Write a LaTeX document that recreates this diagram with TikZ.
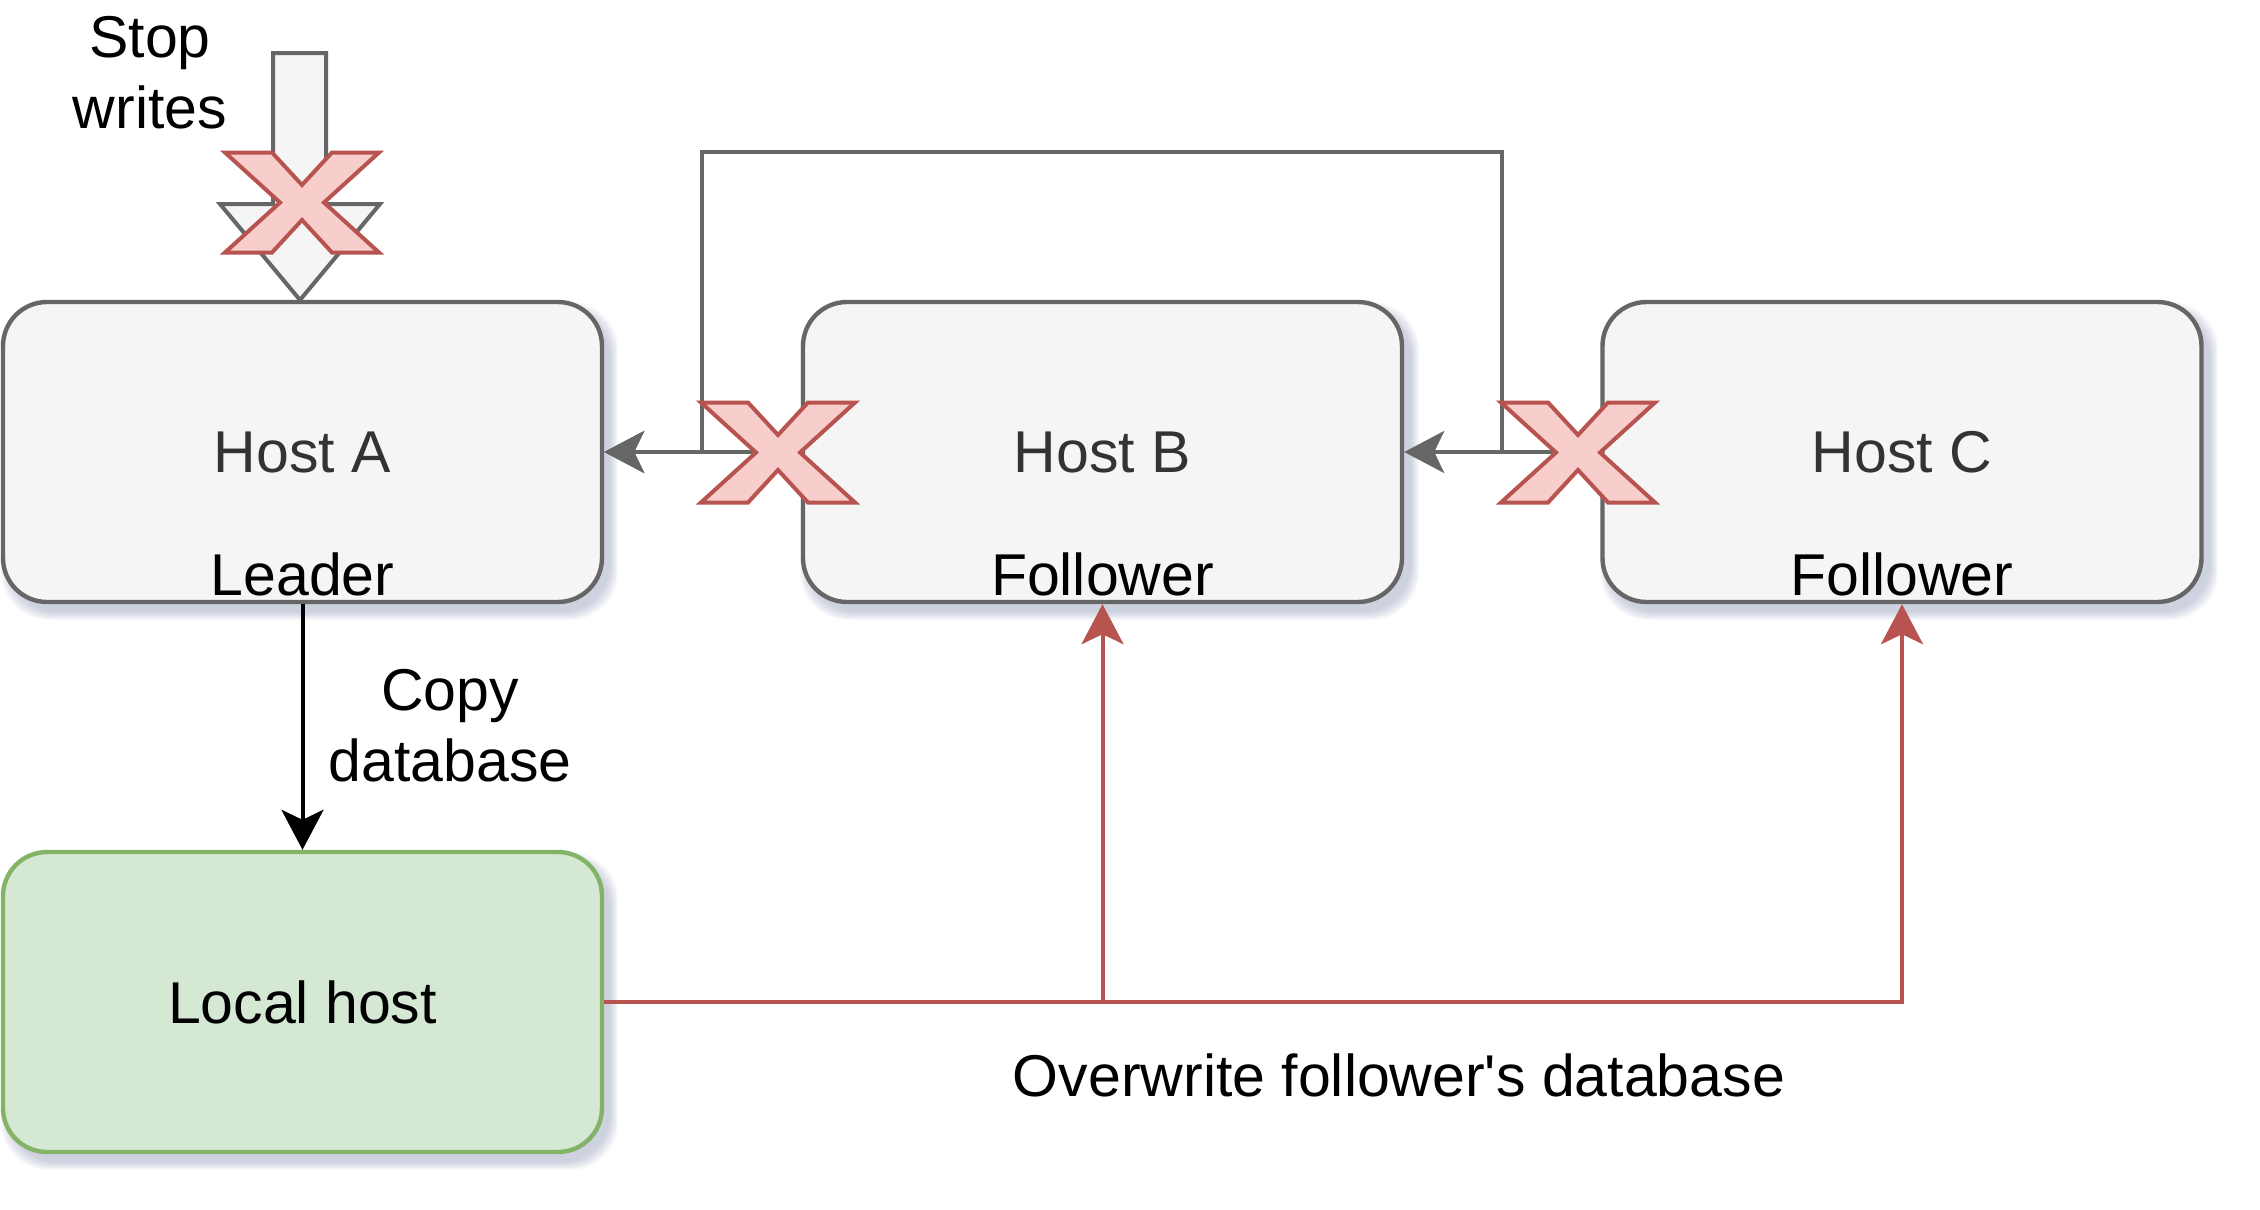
\documentclass[tikz,border=0pt]{standalone}
\usepackage{fontspec}
\setmainfont{Liberation Sans}
\usetikzlibrary{arrows.meta}
\definecolor{gbord}{HTML}{666666}
\definecolor{gfill}{HTML}{F5F5F5}
\definecolor{gtext}{HTML}{333333}
\definecolor{grfill}{HTML}{D5E8D4}
\definecolor{grbord}{HTML}{82B366}
\definecolor{rbord}{HTML}{B85450}
\definecolor{rfill}{HTML}{F8CECC}
\definecolor{shadowc}{HTML}{8E97B8}
\newcommand{\dfont}{\fontsize{29.5pt}{35.4pt}\selectfont}
\newcommand{\boxshadow}[4]{%
  \foreach \s in {1,...,9}{%
    \fill[shadowc, opacity=0.055, rounded corners=24pt]
      ({#1+7-\s},{#2+9-\s}) rectangle ({#3+7+\s},{#4+9+\s});
  }%
}
\tikzset{
  xmark/.pic={
    \draw[draw=rbord, fill=rfill, line width=2pt, line join=miter]
      (-77,-50) -- (-30,-50) -- (0,-17.5) -- (30,-50) -- (77,-50)
      -- (22,0) -- (77,50) -- (30,50) -- (0,17.5) -- (-30,50)
      -- (-77,50) -- (-22,0) -- cycle;
  }
}
\begin{document}
\begin{tikzpicture}[x=0.5pt, y=-0.5pt,
  >={Stealth[length=20pt,width=21pt,inset=5pt]},
  hostbox/.style={draw=gbord, fill=gfill, line width=2.2pt, rounded corners=22pt,
    minimum width=299.5pt, minimum height=150pt, inner sep=0pt, text=gtext, font=\dfont},
  localbox/.style={hostbox, draw=grbord, fill=grfill, text=black},
  lbl/.style={inner sep=0pt, text=black, font=\dfont},
  grayline/.style={draw=gbord, line width=2pt},
  redline/.style={draw=rbord, line width=2pt},
  blackline/.style={draw=black, line width=2pt}]
\useasboundingbox (0,0) rectangle (2260,1210);
\fill[white] (0,0) rectangle (2260,1210);

% shadows
\boxshadow{3}{302}{602}{602}
\boxshadow{802}{302}{1403}{602}
\boxshadow{1602}{302}{2202}{602}
\boxshadow{3}{852}{602}{1152}

% boxes
\node[hostbox] (A) at (302.5,452) {Host A};
\node[hostbox] (B) at (1102.5,452) {Host B};
\node[hostbox] (C) at (1902,452) {Host C};
\node[localbox] (L) at (302.5,1002) {Local host};

\node[lbl, anchor=base] (leadA) at (302.5,595) {Leader};
\node[lbl, anchor=base] (follB) at (1102.5,595) {Follower};
\node[lbl, anchor=base] (follC) at (1902,595) {Follower};

% stop writes arrow
\draw[draw=gbord, fill=gfill, line width=2pt, line join=miter]
  (273,53) -- (326,53) -- (326,204) -- (380,204) -- (300,300)
  -- (220,204) -- (273,204) -- cycle;
\node[lbl, align=center] (stop) at (150,73) {Stop\\writes};

% gray connectors
\coordinate (lt) at (702,152);
\coordinate (rt) at (1502,152);
\draw[grayline,->] (C.west) -| (rt) -- (lt) |- (A.east);
\draw[grayline,->] (B.west) -- (A.east);
\draw[grayline,->] (C.west) -- (B.east);

% copy database
\draw[blackline,->] (A.south) -- (L.north);
\node[lbl, align=center] (copy) at (450,725.5) {Copy\\database};

% red connectors
\draw[redline,->] (L.east) -| (B.south);
\draw[redline,->] (L.east) -| (C.south);
\node[lbl, anchor=base] (ow) at (1399,1096) {Overwrite follower\textquotesingle s database};

% X marks
\pic (x1) at (302,202.5) {xmark};
\pic (x2) at (778,452.5) {xmark};
\pic (x3) at (1578,452.5) {xmark};
\end{tikzpicture}
\end{document}
